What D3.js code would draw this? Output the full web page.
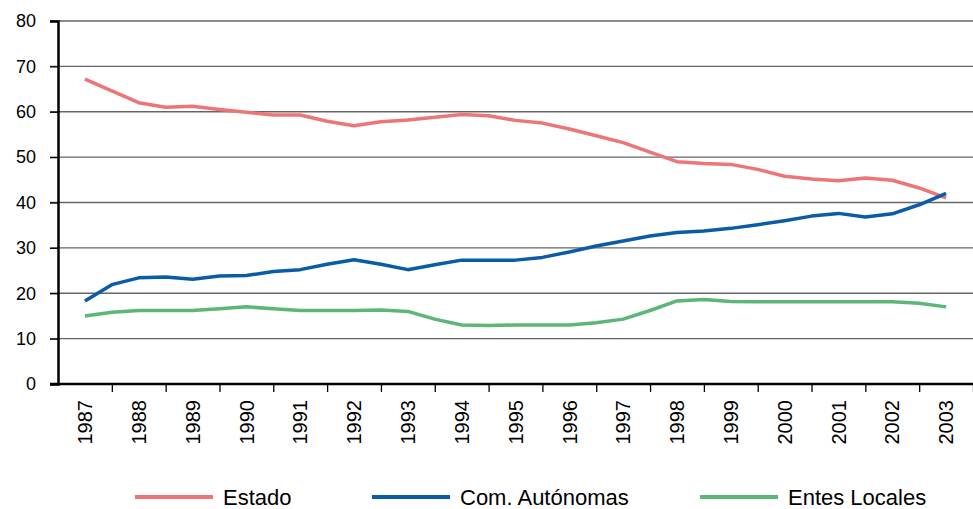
<!DOCTYPE html>
<meta charset="utf-8">
<head>
    <title>Estado, Com. Autónomas, Entes Locales 1987-2003</title>
    <style>
        body { margin: 0; background: #fff; }
        svg text { font-family: "Liberation Sans", Arial, sans-serif; fill: #000; }
    </style>
</head>
<body>
    <script src="https://d3js.org/d3.v7.min.js"></script>
    <script>
        // data (half-year steps)
        var years = [1987, 1988, 1989, 1990, 1991, 1992, 1993, 1994, 1995, 1996, 1997, 1998, 1999, 2000, 2001, 2002, 2003];
        var periods = [1987, 1987.5, 1988, 1988.5, 1989, 1989.5, 1990, 1990.5, 1991, 1991.5, 1992, 1992.5,
                       1993, 1993.5, 1994, 1994.5, 1995, 1995.5, 1996, 1996.5, 1997, 1997.5, 1998, 1998.5,
                       1999, 1999.5, 2000, 2000.5, 2001, 2001.5, 2002, 2002.5, 2003];
        var estado = [67.2, 64.6, 62.0, 61.0, 61.2, 60.5, 59.9, 59.3, 59.3, 57.9, 56.9, 57.8,
                      58.2, 58.8, 59.4, 59.1, 58.1, 57.5, 56.2, 54.7, 53.2, 51.1, 49.0, 48.6,
                      48.4, 47.3, 45.8, 45.2, 44.8, 45.4, 44.9, 43.2, 41.0];
        var autonomas = [18.3, 21.9, 23.4, 23.6, 23.1, 23.8, 23.9, 24.8, 25.2, 26.4, 27.4, 26.4,
                         25.2, 26.3, 27.3, 27.3, 27.3, 27.9, 29.1, 30.4, 31.5, 32.6, 33.4, 33.7,
                         34.3, 35.1, 36.0, 37.0, 37.6, 36.8, 37.5, 39.5, 42.0];
        var locales = [15.0, 15.8, 16.2, 16.2, 16.2, 16.6, 17.0, 16.6, 16.2, 16.2, 16.2, 16.3,
                       16.0, 14.3, 13.0, 12.9, 13.0, 13.0, 13.0, 13.5, 14.3, 16.2, 18.3, 18.6,
                       18.2, 18.1, 18.1, 18.1, 18.1, 18.1, 18.1, 17.8, 17.0];
        var seriesNames = ["Estado", "Com. Autónomas", "Entes Locales"];
        var seriesColors = ["#ec7576", "#0b5ca6", "#5bb677"];
        var yTicks = [0, 10, 20, 30, 40, 50, 60, 70, 80];

        var width = 973, height = 509;
        var margin = { top: 21, right: 973, bottom: 384, left: 58 };

        var svg = d3.select("body").append("svg")
            .attr("width", width)
            .attr("height", height);

        // each year sits in the middle of its slot
        var x = d3.scaleLinear().domain([years[0] - 0.5, years[years.length - 1] + 0.5]).range([margin.left, margin.right]);
        var y = d3.scaleLinear().domain([0, 80]).range([margin.bottom, margin.top]);

        // grid
        svg.append("g").selectAll("line")
            .data(yTicks.slice(1))
            .enter().append("line")
            .attr("x1", margin.left - 8).attr("x2", margin.right)
            .attr("y1", function (d) { return y(d); })
            .attr("y2", function (d) { return y(d); })
            .attr("stroke", "#666").attr("stroke-width", 1.3);

        // y axis
        var yAxis = svg.append("g")
            .attr("transform", "translate(" + margin.left + ",0)")
            .call(d3.axisLeft(y).tickValues(yTicks).tickSize(8).tickPadding(14));
        yAxis.select(".domain").attr("stroke", "#000").attr("stroke-width", 2.5);
        yAxis.selectAll(".tick line").attr("stroke", "#000").attr("stroke-width", 1.3);
        yAxis.selectAll("text").style("font-size", "18px");

        // x axis: ticks on slot borders, labels in slot centres
        var borders = years.map(function (d) { return d + 0.5; });
        var xAxis = svg.append("g")
            .attr("transform", "translate(0," + margin.bottom + ")")
            .call(d3.axisBottom(x).tickValues(borders).tickSize(8).tickFormat(""));
        xAxis.select(".domain").attr("stroke", "#000").attr("stroke-width", 2.5)
            .attr("d", "M" + (margin.left - 8) + ",0H" + margin.right);
        xAxis.selectAll(".tick line").attr("stroke", "#000").attr("stroke-width", 1.3);

        svg.append("g").selectAll("text")
            .data(years)
            .enter().append("text")
            .attr("transform", function (d) { return "translate(" + x(d) + ",400) rotate(-90)"; })
            .attr("dy", "0.36em")
            .attr("text-anchor", "end")
            .style("font-size", "20px")
            .text(function (d) { return d; });

        // lines
        var allSeries = [estado, autonomas, locales];
        var line = d3.line()
            .x(function (d, i) { return x(periods[i]); })
            .y(function (d) { return y(d); });

        svg.append("g").selectAll("path")
            .data(allSeries)
            .enter().append("path")
            .attr("d", line)
            .attr("fill", "none")
            .attr("stroke", function (d, i) { return seriesColors[i]; })
            .attr("stroke-width", 3.5)
            .attr("stroke-linejoin", "round");

        // legend
        var legendX = [135, 372, 700];
        var legend = svg.append("g").selectAll("g")
            .data(seriesNames)
            .enter().append("g")
            .attr("transform", function (d, i) { return "translate(" + legendX[i] + ",497)"; });
        legend.append("line")
            .attr("x1", 0).attr("x2", 78)
            .attr("stroke", function (d, i) { return seriesColors[i]; })
            .attr("stroke-width", 4);
        legend.append("text")
            .attr("x", 88)
            .attr("dy", "0.36em")
            .style("font-size", "22px")
            .text(function (d) { return d; });
    </script>
</body>
</html>
